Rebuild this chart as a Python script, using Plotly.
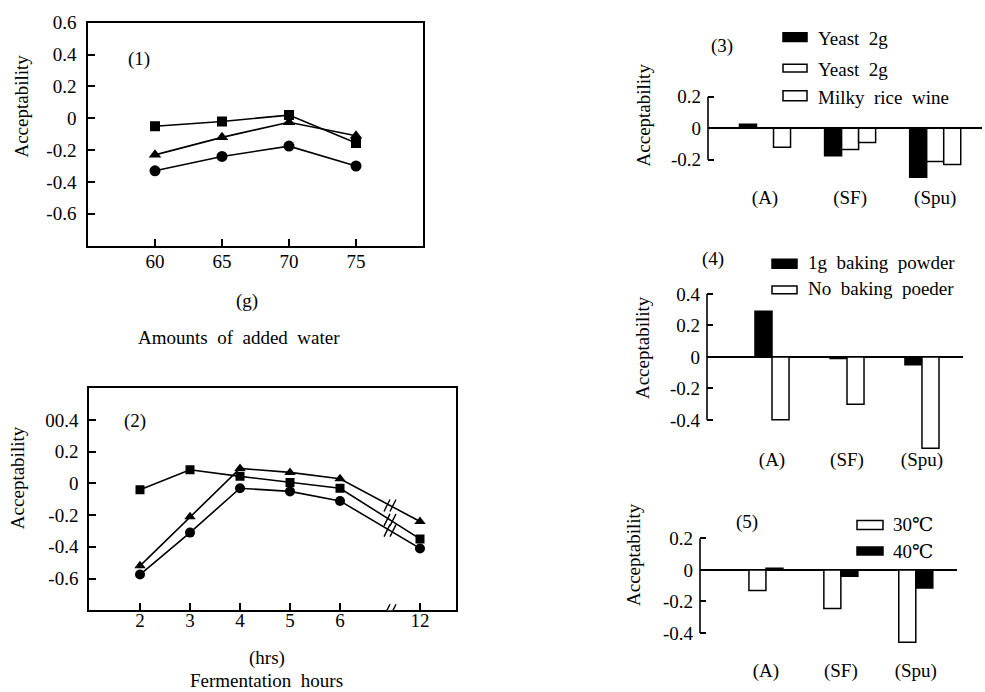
import plotly.graph_objects as go

W, H = 985, 692
FONT = "'Liberation Serif', 'DejaVu Serif', 'Times New Roman', serif"
FS = 19

# ---------------- data ----------------
# Panel (1): amounts of added water
water = [60, 65, 70, 75]
p1_square = [-0.05, -0.02, 0.02, -0.155]
p1_triangle = [-0.23, -0.12, -0.025, -0.11]
p1_circle = [-0.33, -0.24, -0.175, -0.30]
p1_yticks = [0.6, 0.4, 0.2, 0, -0.2, -0.4, -0.6]
p1_yticktext = ["0.6", "0.4", "0.2", "0", "-0.2", "-0.4", "-0.6"]

# Panel (2): fermentation hours (broken axis between 6 and 12)
hours = [2, 3, 4, 5, 6, 12]
hour_labels = ["2", "3", "4", "5", "6", "12"]
p2_square = [-0.04, 0.087, 0.045, 0.006, -0.03, -0.35]
p2_triangle = [-0.52, -0.21, 0.095, 0.07, 0.03, -0.24]
p2_circle = [-0.575, -0.31, -0.03, -0.05, -0.11, -0.41]
p2_yticks = [0.4, 0.2, 0, -0.2, -0.4, -0.6]
p2_yticktext = ["00.4", "0.2", "0", "-0.2", "-0.4", "-0.6"]

# Bar panels
cats = ["(A)", "(SF)", "(Spu)"]

p3_names = ["Yeast\u00a0\u00a02g", "Yeast\u00a0\u00a02g", "Milky\u00a0\u00a0rice\u00a0\u00a0wine"]
p3_values = [
    [0.025, -0.175, -0.31],
    [0.0, -0.135, -0.21],
    [-0.12, -0.09, -0.23],
]
p3_fills = ["black", "white", "white"]

p4_names = ["1g\u00a0\u00a0baking\u00a0\u00a0powder", "No\u00a0\u00a0baking\u00a0\u00a0poeder"]
p4_values = [
    [0.29, -0.01, -0.05],
    [-0.40, -0.30, -0.58],
]
p4_fills = ["black", "white"]

p5_names = ["30\u2103", "40\u2103"]
p5_values = [
    [-0.13, -0.245, -0.46],
    [0.01, -0.04, -0.115],
]
p5_fills = ["white", "black"]


# ---------------- helpers ----------------
def px(x):
    return x / W


def py(y):
    return 1 - y / H


def hour_pos(h):
    # broken axis: 12 h is drawn just after the break
    return h if h <= 6 else h - 4.4


BREAK_X = 7.0

fig = go.Figure()

line_style = dict(color="black", width=1.6)
series = [("square", 10), ("triangle-up", 11), ("circle", 11)]

for (sym, size), ys in zip(series, [p1_square, p1_triangle, p1_circle]):
    fig.add_trace(go.Scatter(
        x=water, y=ys, mode="lines+markers", line=line_style,
        marker=dict(symbol=sym, size=size, color="black"),
        xaxis="x", yaxis="y", showlegend=False))

hx = [hour_pos(h) for h in hours]
for (sym, size), ys in zip(series, [p2_square, p2_triangle, p2_circle]):
    fig.add_trace(go.Scatter(
        x=hx, y=ys, mode="lines+markers", line=line_style,
        marker=dict(symbol=sym, size=size - 1, color="black"),
        xaxis="x2", yaxis="y2", showlegend=False))


def add_bars(names, values, fills, ax, width, offsets):
    for name, vals, fill, off in zip(names, values, fills, offsets):
        fig.add_trace(go.Bar(
            x=cats, y=vals, name=name, width=width, offset=off,
            marker=dict(color=fill, line=dict(color="black", width=1.5)),
            xaxis="x" + ax, yaxis="y" + ax, showlegend=False))


add_bars(p3_names, p3_values, p3_fills, "3", 0.2, [-0.3, -0.1, 0.1])
add_bars(p4_names, p4_values, p4_fills, "4", 0.227, [-0.227, 0.0])
add_bars(p5_names, p5_values, p5_fills, "5", 0.227, [-0.227, 0.0])

tickfont = dict(family=FONT, size=FS, color="black")

box_axis = dict(showline=True, linecolor="black", linewidth=1.6, mirror=True,
                ticks="inside", ticklen=7, tickcolor="black", tickwidth=1.5,
                showgrid=False, zeroline=False, tickfont=tickfont)

bar_x = dict(showline=False, ticks="", showgrid=False, zeroline=False,
             tickfont=tickfont, type="category")
bar_y = dict(showline=False, ticks="inside", ticklen=6, tickcolor="black",
             tickwidth=1.5, showgrid=False, zeroline=True, zerolinecolor="black",
             zerolinewidth=1.6, tickfont=tickfont, ticklabelstandoff=6)

fig.update_layout(
    width=W, height=H, margin=dict(l=0, r=0, t=0, b=0),
    paper_bgcolor="white", plot_bgcolor="white",
    font=dict(family=FONT, size=FS, color="black"),
    barmode="overlay",
    xaxis=dict(box_axis, domain=[px(88), px(423)], range=[55, 80],
               tickvals=water, anchor="y", ticklabelstandoff=-2),
    yaxis=dict(box_axis, domain=[py(239), py(13)], range=[-0.8, 0.6],
               tickvals=p1_yticks, ticktext=p1_yticktext, anchor="x",
               ticklabelstandoff=6),
    xaxis2=dict(box_axis, domain=[px(89), px(456)], range=[0.98, 8.32],
                tickvals=hx, ticktext=hour_labels, anchor="y2",
                ticklabelstandoff=-8),
    yaxis2=dict(box_axis, domain=[py(609), py(384)], range=[-0.8, 0.6],
                tickvals=p2_yticks, ticktext=p2_yticktext, anchor="x2",
                ticklabelstandoff=5),
    xaxis3=dict(bar_x, domain=[px(708), px(982)], range=[-0.67, 2.55],
                anchor="y3", ticklabelstandoff=1),
    yaxis3=dict(bar_y, domain=[py(176), py(80)], range=[-0.35, 0.25],
                tickvals=[0.2, 0, -0.2], ticktext=["0.2", "0", "-0.2"], anchor="x3"),
    xaxis4=dict(bar_x, domain=[px(707), px(963)], range=[-0.867, 2.547],
                anchor="y4", ticklabelstandoff=-8),
    yaxis4=dict(bar_y, domain=[py(451), py(285)], range=[-0.62, 0.42],
                tickvals=[0.4, 0.2, 0, -0.2, -0.4],
                ticktext=["0.4", "0.2", "0", "-0.2", "-0.4"], anchor="x4"),
    xaxis5=dict(bar_x, domain=[px(700), px(957)], range=[-0.88, 2.55],
                anchor="y5", ticklabelstandoff=8),
    yaxis5=dict(bar_y, domain=[py(648), py(533)], range=[-0.5, 0.22],
                tickvals=[0.2, 0, -0.2, -0.4],
                ticktext=["0.2", "0", "-0.2", "-0.4"], anchor="x5"),
)

shapes = []
# y-axis brackets on the bar panels
for ax, lo, hi in [("3", -0.2, 0.2), ("4", -0.4, 0.4), ("5", -0.4, 0.2)]:
    shapes.append(dict(type="line", xref="x%s domain" % ax, yref="y" + ax,
                       x0=0, x1=0, y0=lo, y1=hi,
                       line=dict(color="black", width=1.6)))


# break marks on panel 2
def slashes(xv, yv):
    out = []
    for dx in (-3, 3):
        out.append(dict(type="line", xref="x2", yref="y2",
                        xsizemode="pixel", ysizemode="pixel",
                        xanchor=xv, yanchor=yv,
                        x0=dx - 3, x1=dx + 3, y0=-6, y1=6,
                        line=dict(color="black", width=1.4)))
    return out


shapes.append(dict(type="line", xref="x2", yref="y2", xsizemode="pixel",
                   ysizemode="pixel", xanchor=BREAK_X, yanchor=-0.8,
                   x0=-3, x1=3, y0=0, y1=0, line=dict(color="white", width=3)))
shapes += slashes(BREAK_X, -0.8)
x6, x12 = hour_pos(6), hour_pos(12)
for ys in [p2_square, p2_triangle, p2_circle]:
    yb = ys[4] + (ys[5] - ys[4]) * (BREAK_X - x6) / (x12 - x6)
    shapes += slashes(BREAK_X, yb)


# legend boxes (drawn in page pixels)
def legend_box(x0, x1, y0, y1, fill):
    return dict(type="rect", xref="paper", yref="paper",
                x0=px(x0), x1=px(x1), y0=py(y1), y1=py(y0),
                fillcolor=fill, line=dict(color="black", width=1.5))


annotations = []


def text(x, y, s, xanchor="center", angle=0, size=FS):
    annotations.append(dict(x=px(x), y=py(y), xref="paper", yref="paper",
                            text=s, showarrow=False, xanchor=xanchor,
                            yanchor="middle", textangle=angle,
                            font=dict(family=FONT, size=size, color="black")))


# panel 3 legend
for (yy0, yy1), name, fill, ty in zip([(23, 32), (55, 63), (82, 92)], p3_names,
                                       p3_fills, [29, 60, 89]):
    shapes.append(legend_box(783, 807, yy0, yy1, fill))
    text(816, ty, name, xanchor="left")
# panel 4 legend
for (yy0, yy1), name, fill, ty in zip([(253, 262), (280, 288)], p4_names,
                                       p4_fills, [256, 283]):
    shapes.append(legend_box(772, 797, yy0, yy1, fill))
    text(806, ty, name, xanchor="left")
# panel 5 legend
for (yy0, yy1), name, fill, ty in zip([(518, 527), (545, 553)], p5_names,
                                       p5_fills, [522, 549]):
    shapes.append(legend_box(857, 883, yy0, yy1, fill))
    text(891, ty, name, xanchor="left")

# panel labels and titles
text(139, 50, "(1)")
text(135, 417, "(2)")
text(722, 37, "(3)")
text(713, 253, "(4)")
text(747, 520, "(5)")

text(247, 295, "(g)")
text(239, 332, "Amounts\u00a0\u00a0of\u00a0\u00a0added\u00a0\u00a0water")
text(267, 657, "(hrs)")
text(266, 680, "Fermentation\u00a0\u00a0hours")

text(22, 98, "Acceptability", angle=-90)
text(17, 475, "Acceptability", angle=-90)
text(643, 107, "Acceptability", angle=-90)
text(642, 343, "Acceptability", angle=-90)
text(633, 553, "Acceptability", angle=-90)

fig.update_layout(shapes=shapes, annotations=annotations)

fig.write_html("out.html")
